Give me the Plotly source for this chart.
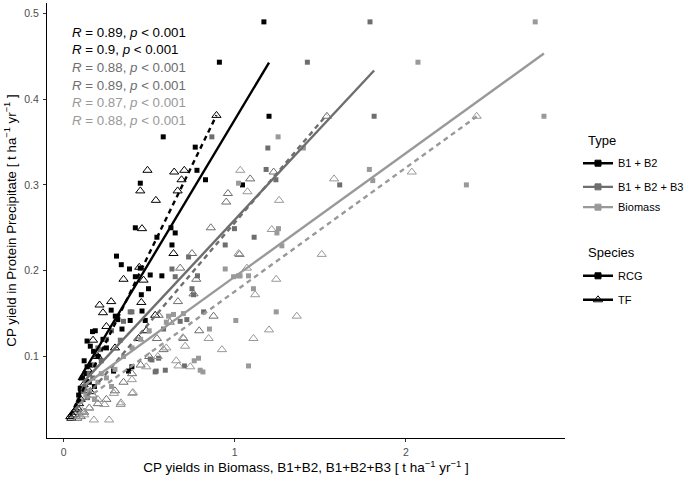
import plotly.graph_objects as go

# ---------------- data ----------------
# RCG (filled squares)
rcg_b12_x = [1.17, 0.91, 1.20, 0.582, 0.769, 0.779, 0.829, 1.045, 0.448, 0.419, 0.627, 0.652, 0.545, 0.633,
             0.309, 0.337, 0.385, 0.448, 0.506, 0.574, 0.419, 0.496, 0.454, 0.458, 0.278, 0.302, 0.317, 0.389,
             0.477, 0.341, 0.169, 0.185, 0.137, 0.156, 0.175, 0.137, 0.292, 0.379, 0.399, 0.097, 0.088, 0.11,
             0.12, 0.20, 0.23, 0.10, 0.15, 0.13, 0.16, 0.25, 0.09, 0.18]
rcg_b12_y = [0.490, 0.443, 0.380, 0.356, 0.344, 0.317, 0.306, 0.300, 0.302, 0.250, 0.250, 0.244, 0.239, 0.230,
             0.217, 0.207, 0.202, 0.203, 0.195, 0.194, 0.193, 0.179, 0.172, 0.153, 0.154, 0.147, 0.143, 0.142,
             0.142, 0.132, 0.129, 0.130, 0.118, 0.112, 0.106, 0.088, 0.083, 0.083, 0.088, 0.063, 0.055, 0.075,
             0.095, 0.100, 0.120, 0.060, 0.070, 0.080, 0.090, 0.110, 0.048, 0.065]

rcg_b123_x = [1.79, 1.424, 1.814, 0.866, 1.193, 1.183, 1.24, 1.613, 0.998, 1.113, 0.944, 0.73, 0.633, 0.782,
              0.652, 0.75, 0.759, 0.818, 0.72, 0.681, 0.584, 0.399, 0.389, 0.35, 0.331, 0.214, 0.516, 0.535,
              0.594, 0.706, 0.555, 0.506, 0.541, 0.15, 0.12, 0.115, 0.25, 0.28, 0.18, 0.20, 0.13, 0.17, 0.22,
              0.14]
rcg_b123_y = [0.490, 0.443, 0.380, 0.356, 0.343, 0.318, 0.306, 0.300, 0.249, 0.239, 0.230, 0.216, 0.202, 0.194,
              0.193, 0.179, 0.172, 0.152, 0.143, 0.141, 0.132, 0.152, 0.152, 0.141, 0.119, 0.108, 0.096, 0.082,
              0.084, 0.089, 0.098, 0.097, 0.083, 0.080, 0.065, 0.060, 0.120, 0.130, 0.090, 0.110, 0.070, 0.075,
              0.095, 0.052]

rcg_bio_x = [2.755, 2.07, 2.806, 1.253, 1.401, 1.786, 1.806, 2.353, 1.022, 1.255, 1.246, 1.275, 1.022, 1.08,
             0.993, 1.031, 1.109, 1.242, 1.006, 0.944, 0.852, 0.642, 0.613, 0.788, 0.763, 0.798, 0.814, 1.08,
             0.15, 0.20, 0.25, 0.13, 0.30, 0.35, 0.45, 0.50, 0.60, 0.40, 0.70, 0.18, 0.28, 0.22]
rcg_bio_y = [0.490, 0.443, 0.380, 0.356, 0.343, 0.318, 0.305, 0.300, 0.302, 0.249, 0.244, 0.229, 0.194, 0.194,
             0.193, 0.194, 0.179, 0.152, 0.142, 0.202, 0.132, 0.149, 0.147, 0.098, 0.095, 0.084, 0.082, 0.089,
             0.060, 0.070, 0.075, 0.055, 0.085, 0.100, 0.120, 0.130, 0.140, 0.110, 0.150, 0.050, 0.065, 0.080]

# TF (open triangles)
tf_b12_x = [0.893, 0.490, 0.646, 0.705, 0.689, 0.448, 0.666, 0.539, 0.458, 0.642, 0.442, 0.467, 0.278, 0.230,
            0.454, 0.483, 0.172, 0.438, 0.156, 0.117, 0.039, 0.535, 0.20, 0.25, 0.08, 0.10, 0.06, 0.14, 0.30,
            0.35, 0.21, 0.12, 0.05, 0.07, 0.09, 0.045]
tf_b12_y = [0.381, 0.317, 0.315, 0.317, 0.306, 0.293, 0.293, 0.282, 0.249, 0.220, 0.204, 0.189, 0.164, 0.151,
            0.163, 0.130, 0.119, 0.121, 0.059, 0.067, 0.030, 0.148, 0.100, 0.135, 0.040, 0.050, 0.035, 0.085,
            0.110, 0.190, 0.160, 0.060, 0.032, 0.038, 0.045, 0.028]

tf_b123_x = [1.538, 1.227, 1.09, 1.028, 0.681, 0.775, 0.759, 0.668, 0.876, 0.792, 0.70, 0.584, 0.545, 0.555,
             0.96, 0.95, 0.86, 0.75, 0.30, 0.25, 0.20, 0.15, 0.10, 0.35, 0.40, 0.45, 0.50, 0.62, 0.07, 0.12,
             0.08, 0.17]
tf_b123_y = [0.380, 0.315, 0.307, 0.219, 0.203, 0.190, 0.173, 0.164, 0.147, 0.130, 0.121, 0.108, 0.121, 0.148,
             0.290, 0.280, 0.250, 0.220, 0.060, 0.050, 0.045, 0.040, 0.030, 0.070, 0.080, 0.090, 0.100, 0.140,
             0.032, 0.035, 0.028, 0.055]

tf_bio_x = [2.413, 2.034, 1.58, 1.259, 1.216, 1.508, 1.242, 1.119, 1.362, 1.2, 1.109, 1.032, 1.074, 1.022,
            1.071, 0.925, 0.847, 0.71, 0.74, 0.671, 0.658, 0.483, 0.399, 0.405, 0.335, 0.697, 0.177, 0.266,
            0.401, 0.333, 0.239, 0.294, 0.09, 0.12, 0.15, 0.20, 0.55, 0.60, 0.11]
tf_bio_y = [0.380, 0.315, 0.307, 0.282, 0.248, 0.219, 0.190, 0.172, 0.147, 0.131, 0.121, 0.317, 0.292, 0.220,
            0.203, 0.108, 0.121, 0.112, 0.088, 0.089, 0.095, 0.088, 0.073, 0.058, 0.046, 0.122, 0.026, 0.026,
            0.057, 0.044, 0.044, 0.057, 0.030, 0.032, 0.040, 0.050, 0.100, 0.110, 0.036]

type_names = ["B1 + B2", "B1 + B2 + B3", "Biomass"]
type_colors = ["#000000", "#6E6E6E", "#999999"]
species_names = ["RCG", "TF"]

# linear-fit coefficients
fit_slope_rcg = [0.333, 0.2138, 0.144]
fit_icpt_rcg = [0.043, 0.0455, 0.049]
fit_slope_tf = [0.41, 0.234, 0.1443]
fit_icpt_tf = [0.015, 0.022, 0.0315]

r_values = ["0.89", "0.9", "0.88", "0.89", "0.87", "0.88"]
p_label = "0.001"

# ---------------- figure ----------------
FONT = "Liberation Sans, Arial, Helvetica, sans-serif"
fig = go.Figure()

rcg_x = [rcg_b12_x, rcg_b123_x, rcg_bio_x]
rcg_y = [rcg_b12_y, rcg_b123_y, rcg_bio_y]
tf_x = [tf_b12_x, tf_b123_x, tf_bio_x]
tf_y = [tf_b12_y, tf_b123_y, tf_bio_y]

for i in range(3):
    c = type_colors[i]
    fig.add_trace(go.Scatter(x=rcg_x[i], y=rcg_y[i], mode="markers", showlegend=False,
                             marker=dict(symbol="square", size=5, color=c, line=dict(width=0))))
    fig.add_trace(go.Scatter(x=tf_x[i], y=tf_y[i], mode="markers", showlegend=False,
                             marker=dict(symbol="triangle-up-open", size=8, color=c, line=dict(width=1, color=c))))

for i in range(3):
    c = type_colors[i]
    xs = [min(rcg_x[i]), max(rcg_x[i])]
    fig.add_trace(go.Scatter(x=xs, y=[fit_icpt_rcg[i] + fit_slope_rcg[i] * v for v in xs], mode="lines",
                             showlegend=False, line=dict(color=c, width=2.4)))
    xs = [min(tf_x[i]), max(tf_x[i])]
    fig.add_trace(go.Scatter(x=xs, y=[fit_icpt_tf[i] + fit_slope_tf[i] * v for v in xs], mode="lines",
                             showlegend=False, line=dict(color=c, width=2.4, dash="5px,4px")))

# R / p labels
r_colors = [type_colors[0], type_colors[0], type_colors[1], type_colors[1], type_colors[2], type_colors[2]]
for k, (rv, rc) in enumerate(zip(r_values, r_colors)):
    fig.add_annotation(x=0.039, y=0.478 - 0.0206 * k, xref="x", yref="y", xanchor="left", yanchor="middle",
                       text=f"<i>R</i> = {rv}, <i>p</i> &lt; {p_label}", showarrow=False,
                       font=dict(family=FONT, size=13.3, color=rc))

# legends: one legend per entry, placed like the reference
PL, PR, PT, PB = 46.7, 565.0, 3.0, 438.3
def px2paper_x(px):
    return (px - PL) / (PR - PL)
def px2paper_y(py):
    return (PB - py) / (PB - PT)

legend_rows = [163.3, 187.0, 207.3, 276.0, 300.0]
legend_names = ["legend", "legend2", "legend3", "legend4", "legend5"]
entries = []
for i in range(3):
    entries.append((type_names[i], type_colors[i], "square", 6))
entries.append((species_names[0], "#000000", "square", 6))
entries.append((species_names[1], "#000000", "triangle-up-open", 8))

layout_legends = {}
for (name, color, sym, size), row, lg in zip(entries, legend_rows, legend_names):
    fig.add_trace(go.Scatter(x=[None], y=[None], mode="lines+markers", name=name, legend=lg,
                             line=dict(color=color, width=2.4),
                             marker=dict(symbol=sym, size=size, color=color, line=dict(width=1, color=color))))
    layout_legends[lg] = dict(x=px2paper_x(578), y=px2paper_y(row), xanchor="left", yanchor="middle",
                              bgcolor="rgba(0,0,0,0)", font=dict(family=FONT, size=11, color="#000000"),
                              itemwidth=30)

for title, row in [("Type", 141.0), ("Species", 252.7)]:
    fig.add_annotation(x=px2paper_x(586), y=px2paper_y(row), xref="paper", yref="paper", xanchor="left",
                       yanchor="middle", text=title, showarrow=False,
                       font=dict(family=FONT, size=13, color="#000000"))

fig.update_layout(
    width=685, height=477,
    margin=dict(l=PL, r=685 - PR, t=PT, b=477 - PB, pad=0, autoexpand=False),
    plot_bgcolor="white", paper_bgcolor="white",
    font=dict(family=FONT, color="#000000"),
    **layout_legends,
)
fig.update_xaxes(range=[-0.097, 2.929], tickvals=[0, 1, 2], ticktext=["0", "1", "2"],
                 showgrid=False, zeroline=False, showline=True, linecolor="#000000", linewidth=1.2,
                 ticks="outside", ticklen=3, tickwidth=1, tickcolor="#333333", automargin=False,
                 ticklabelstandoff=1,
                 tickfont=dict(family=FONT, size=10.5, color="#4D4D4D"),
                 title=dict(text="CP yields in Biomass, B1+B2, B1+B2+B3 [ t ha<sup>\u22121</sup> yr<sup>\u22121</sup> ]",
                            font=dict(family=FONT, size=13.5, color="#000000"), standoff=3))
fig.update_yaxes(range=[0.005, 0.512], tickvals=[0.1, 0.2, 0.3, 0.4, 0.5],
                 ticktext=["0.1", "0.2", "0.3", "0.4", "0.5"],
                 showgrid=False, zeroline=False, showline=True, linecolor="#000000", linewidth=1.2,
                 ticks="outside", ticklen=3, tickwidth=1, tickcolor="#333333", automargin=False,
                 ticklabelstandoff=2,
                 tickfont=dict(family=FONT, size=10.5, color="#4D4D4D"),
                 title=dict(text="CP yield in Protein Precipitate [ t ha<sup>\u22121</sup> yr<sup>\u22121</sup> ]",
                            font=dict(family=FONT, size=13.3, color="#000000"), standoff=4))

fig.write_html("out.html", config={"displayModeBar": False},
               post_script="document.body.style.margin='0px';")
